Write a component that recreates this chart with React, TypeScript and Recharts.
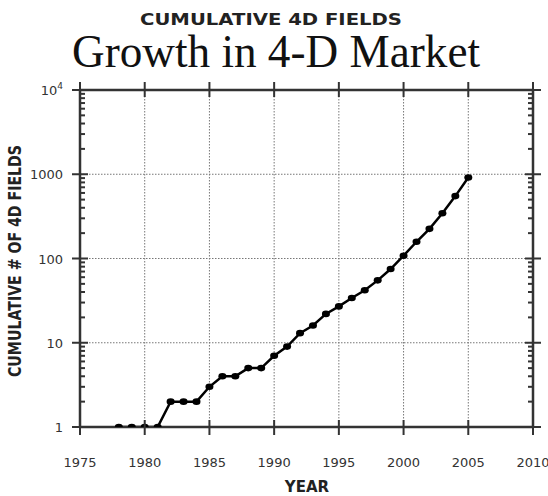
import { CartesianGrid, Line, LineChart, XAxis, YAxis } from "recharts";

const YEARS = [
  1978, 1979, 1980, 1981, 1982, 1983, 1984, 1985, 1986, 1987, 1988, 1989, 1990, 1991,
  1992, 1993, 1994, 1995, 1996, 1997, 1998, 1999, 2000, 2001, 2002, 2003, 2004, 2005,
];
const FIELDS = [
  1, 1, 1, 1, 2, 2, 2, 3, 4, 4, 5, 5, 7, 9,
  13, 16, 22, 27, 34, 42, 55, 75, 108, 158, 225, 345, 550, 916,
];
const YEAR_TICKS = [1975, 1980, 1985, 1990, 1995, 2000, 2005, 2010];
const DECADE_TICKS = [1, 10, 100, 1000, 10000];
const MINOR_TICKS = [
  2, 3, 4, 5, 6, 7, 8, 9,
  20, 30, 40, 50, 60, 70, 80, 90,
  200, 300, 400, 500, 600, 700, 800, 900,
  2000, 3000, 4000, 5000, 6000, 7000, 8000, 9000,
];

const data = YEARS.map((year, i) => ({ year, fields: FIELDS[i] }));

const INK = "#333";
const LABEL_FONT = "DejaVu Sans";
const frame = { stroke: INK, strokeWidth: 2.5 };

const decade = (v: number) => DECADE_TICKS.includes(v);

// left frame: crossing ticks at decades with labels, short inward ticks between
function LeftTick({ x, y, payload }: any) {
  const v = payload.value;
  if (!decade(v)) return <line x1={x} x2={x + 5} y1={y} y2={y} stroke={INK} strokeWidth={2} />;
  return (
    <g>
      <line x1={x - 8} x2={x + 8} y1={y} y2={y} stroke={INK} strokeWidth={2} />
      <text x={x - 17} y={y} dy="0.4em" textAnchor="end" fontSize={13} fontFamily={LABEL_FONT} fill={INK}>
        {v === 10000 ? (
          <>
            10<tspan dy={-6} fontSize={9}>4</tspan>
          </>
        ) : (
          v
        )}
      </text>
    </g>
  );
}

function RightTick({ x, y, payload }: any) {
  if (!decade(payload.value)) return <line x1={x - 5} x2={x} y1={y} y2={y} stroke={INK} strokeWidth={2} />;
  return <line x1={x - 8} x2={x + 8} y1={y} y2={y} stroke={INK} strokeWidth={2} />;
}

function BottomTick({ x, y, payload }: any) {
  return (
    <g>
      <line x1={x} x2={x} y1={y - 7} y2={y + 8} stroke={INK} strokeWidth={2} />
      <text x={x} y={y + 40} textAnchor="middle" fontSize={13} fontFamily={LABEL_FONT} fill={INK}>
        {payload.value}
      </text>
    </g>
  );
}

function TopTick({ x, y }: any) {
  return <line x1={x} x2={x} y1={y - 8} y2={y + 7} stroke={INK} strokeWidth={2} />;
}

function Dot({ cx, cy }: any) {
  return <ellipse cx={cx} cy={cy} rx={4} ry={3.3} fill="#000" />;
}

export default function App() {
  return (
    <div style={{ position: "absolute", left: 0, top: 0, width: 548, height: 496, background: "#fff" }}>
      <LineChart width={548} height={496} data={data} margin={{ top: 80, right: 0, bottom: 0, left: 0 }}>
        <CartesianGrid xAxisId="yr" yAxisId="grid" stroke="#777" strokeDasharray="1.5 1.5" />
        <XAxis
          xAxisId="yr"
          dataKey="year"
          type="number"
          domain={[1975, 2010]}
          allowDataOverflow
          ticks={YEAR_TICKS}
          interval={0}
          height={69}
          axisLine={frame}
          tickLine={false}
          tickSize={0}
          tickMargin={0}
          tick={<BottomTick />}
        />
        <XAxis
          xAxisId="top"
          orientation="top"
          dataKey="year"
          type="number"
          domain={[1975, 2010]}
          allowDataOverflow
          ticks={YEAR_TICKS}
          interval={0}
          height={10}
          axisLine={frame}
          tickLine={false}
          tickSize={0}
          tickMargin={0}
          tick={<TopTick />}
        />
        <YAxis
          yAxisId="cnt"
          scale="log"
          type="number"
          domain={[1, 10000]}
          allowDataOverflow
          ticks={[...DECADE_TICKS, ...MINOR_TICKS]}
          interval={0}
          width={80}
          axisLine={frame}
          tickLine={false}
          tickSize={0}
          tickMargin={0}
          tick={<LeftTick />}
        />
        <YAxis
          yAxisId="right"
          orientation="right"
          scale="log"
          type="number"
          domain={[1, 10000]}
          allowDataOverflow
          ticks={[...DECADE_TICKS, ...MINOR_TICKS]}
          interval={0}
          width={15}
          axisLine={frame}
          tickLine={false}
          tickSize={0}
          tickMargin={0}
          tick={<RightTick />}
        />
        <YAxis yAxisId="grid" hide scale="log" type="number" domain={[1, 10000]} allowDataOverflow ticks={DECADE_TICKS} />
        <Line
          xAxisId="yr"
          yAxisId="cnt"
          type="linear"
          dataKey="fields"
          stroke="#000"
          strokeWidth={2.5}
          dot={<Dot />}
          activeDot={false}
          isAnimationActive={false}
        />
      </LineChart>
      <svg width={548} height={496} style={{ position: "absolute", left: 0, top: 0, pointerEvents: "none" }}>
        <text
          x={271}
          y={25}
          textAnchor="middle"
          fontFamily="DejaVu Sans"
          fontWeight="bold"
          fontSize={15}
          textLength={262}
          lengthAdjust="spacingAndGlyphs"
          fill="#222"
        >
          CUMULATIVE 4D FIELDS
        </text>
        <text
          x={276}
          y={67}
          textAnchor="middle"
          fontFamily="Liberation Serif"
          fontSize={47}
          textLength={408}
          lengthAdjust="spacingAndGlyphs"
          fill="#111"
        >
          Growth in 4-D Market
        </text>
        <text
          x={15}
          y={261}
          dy="0.36em"
          transform="rotate(-90 15 261)"
          textAnchor="middle"
          fontFamily="DejaVu Sans"
          fontWeight="bold"
          fontSize={17}
          textLength={232}
          lengthAdjust="spacingAndGlyphs"
          fill="#222"
        >
          CUMULATIVE # OF 4D FIELDS
        </text>
        <text x={307} y={492} textAnchor="middle" fontFamily="DejaVu Sans" fontWeight="bold" fontSize={15} fill="#222">
          YEAR
        </text>
      </svg>
    </div>
  );
}
